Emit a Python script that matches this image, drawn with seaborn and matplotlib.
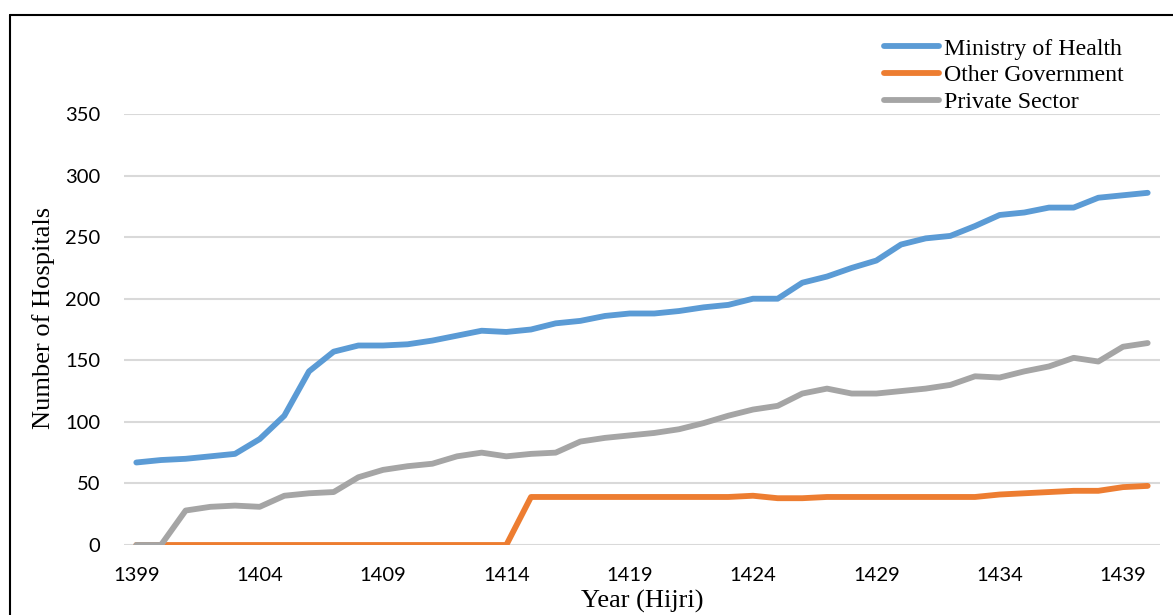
import numpy as np
import pandas as pd
import matplotlib
matplotlib.use("Agg")
import matplotlib.pyplot as plt
import seaborn as sns
from matplotlib.lines import Line2D

years = list(range(1399, 1441))
ministry_of_health = [67, 69, 70, 72, 74, 86, 105, 141, 157, 162, 162, 163, 166, 170, 174, 173,
                      175, 180, 182, 186, 188, 188, 190, 193, 195, 200, 200, 213, 218, 225, 231,
                      244, 249, 251, 259, 268, 270, 274, 274, 282, 284, 286]
other_government = [0, 0, 0, 0, 0, 0, 0, 0, 0, 0, 0, 0, 0, 0, 0, 0,
                    39, 39, 39, 39, 39, 39, 39, 39, 39, 40, 38, 38, 39, 39, 39,
                    39, 39, 39, 39, 41, 42, 43, 44, 44, 47, 48]
private_sector = [0, 0, 28, 31, 32, 31, 40, 42, 43, 55, 61, 64, 66, 72, 75, 72,
                  74, 75, 84, 87, 89, 91, 94, 99, 105, 110, 113, 123, 127, 123, 123,
                  125, 127, 130, 137, 136, 141, 145, 152, 149, 161, 164]
series_names = ["Ministry of Health", "Other Government", "Private Sector"]
x_ticks = [1399, 1404, 1409, 1414, 1419, 1424, 1429, 1434, 1439]
y_ticks = [0, 50, 100, 150, 200, 250, 300, 350]

colors = ["#5B9BD5", "#ED7D31", "#A5A5A5"]

df = pd.DataFrame({
    "Year": years * 3,
    "Value": ministry_of_health + other_government + private_sector,
    "Series": [series_names[0]] * len(years) + [series_names[1]] * len(years) + [series_names[2]] * len(years),
})

sns.set_theme(style="white")
plt.rcParams["font.family"] = ["Lato", "DejaVu Sans"]

fig = plt.figure(figsize=(11.73, 6.15), dpi=100)
W, H = 1173, 615
ax = fig.add_axes([124 / W, 1 - 545 / H, (1160 - 124) / W, (545 - 114) / H])

sns.lineplot(data=df, x="Year", y="Value", hue="Series", hue_order=series_names,
             palette=colors, linewidth=4.2, ax=ax, legend=False, zorder=3)
for ln in ax.lines:
    ln.set_solid_capstyle("round")
    ln.set_solid_joinstyle("round")

ax.set_xlim(1398.5, 1440.5)
ax.set_ylim(0, 350)
ax.set_xticks(x_ticks)
ax.set_yticks(y_ticks)
ax.set_xticklabels([str(t) for t in x_ticks])
ax.set_yticklabels([str(t) for t in y_ticks])
ax.tick_params(axis="both", length=0, labelsize=14.5, colors="#000000")
ax.tick_params(axis="y", pad=17)
ax.tick_params(axis="x", pad=16)
ax.yaxis.grid(True, color="#D9D9D9", linewidth=1.5, zorder=0)
ax.xaxis.grid(False)
ax.set_axisbelow(True)
for s in ax.spines.values():
    s.set_visible(False)

ax.set_xlabel("Year (Hijri)", family="Liberation Serif", fontsize=19, color="black")
ax.set_ylabel("Number of Hospitals", family="Liberation Serif", fontsize=19, color="black")
ax.xaxis.set_label_coords(0.5, -0.105)
ax.yaxis.set_label_coords(-0.067, 0.527)

handles = [Line2D([0], [0], color=c, lw=4.2, solid_capstyle="round") for c in colors]
leg = fig.legend(handles, series_names, loc="upper left",
                 bbox_to_anchor=(884 / W, 1 - 38 / H), frameon=False,
                 prop={"family": "Liberation Serif", "size": 17.2},
                 handlelength=2.3, handletextpad=0.2, labelspacing=0.21,
                 borderpad=0, borderaxespad=0)
for t in leg.get_texts():
    t.set_color("black")

# outer border lines (top and left)
fig.add_artist(Line2D([10 / W, 1.0], [1 - 15 / H, 1 - 15 / H], color="black", lw=1.5,
                      transform=fig.transFigure))
fig.add_artist(Line2D([10 / W, 10 / W], [0, 1 - 15 / H], color="black", lw=1.5,
                      transform=fig.transFigure))

fig.savefig("out.png", dpi=100, facecolor="white")
